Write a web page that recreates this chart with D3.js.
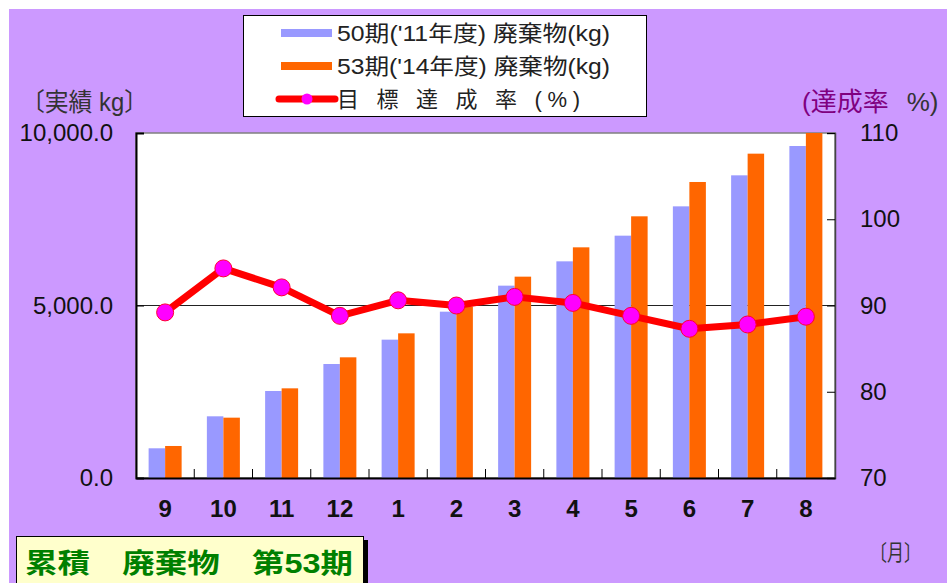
<!DOCTYPE html>
<html>
<head>
<meta charset="utf-8">
<script src="https://d3js.org/d3.v7.min.js"></script>
<style>
  body { margin: 0; background: #fff; }
  svg text { font-family: "Liberation Sans", "Noto Sans CJK JP", sans-serif; }
</style>
</head>
<body>
<div class="vis"></div>
<script>
  // data
  const months = ["9", "10", "11", "12", "1", "2", "3", "4", "5", "6", "7", "8"];
  const waste50 = [861, 1788, 2522, 3304, 4010, 4821, 5575, 6280, 7024, 7874, 8773, 9623];
  const waste53 = [928, 1749, 2599, 3498, 4193, 4970, 5836, 6686, 7585, 8580, 9401, 10050];
  const rate = [89.2, 94.3, 92.1, 88.8, 90.6, 90.0, 91.0, 90.3, 88.8, 87.3, 87.8, 88.7];
  const leftTicks = [0, 5000, 10000];
  const rightTicks = [70, 80, 90, 100, 110];
  const legendLabels = ["50期('11年度) 廃棄物(kg)", "53期('14年度) 廃棄物(kg)", "目 標 達 成 率 (%)"];

  const W = 947, H = 583;
  const plot = {left: 136, right: 835, top: 133, bottom: 478};

  const svg = d3.select(".vis").append("svg")
    .attr("width", W).attr("height", H);

  // purple frame
  svg.append("rect").attr("x", 9).attr("y", 9).attr("width", W - 9).attr("height", H - 9)
    .attr("fill", "#CC99FF");

  const x = d3.scaleBand().domain(months).range([plot.left, plot.right]);
  const xs = d3.scaleBand().domain(["a", "b"]).range([0, 33]);
  const yL = d3.scaleLinear().domain([0, 10000]).range([plot.bottom, plot.top]).clamp(true);
  const yR = d3.scaleLinear().domain([70, 110]).range([plot.bottom, plot.top]);

  // plot area
  svg.append("rect")
    .attr("x", plot.left).attr("y", plot.top)
    .attr("width", plot.right - plot.left).attr("height", plot.bottom - plot.top)
    .attr("fill", "#fff").attr("stroke", "#808080").attr("stroke-width", 1.5);

  // gridline at 5000
  svg.append("line")
    .attr("x1", plot.left).attr("x2", plot.right)
    .attr("y1", yL(5000)).attr("y2", yL(5000))
    .attr("stroke", "#222").attr("stroke-width", 1);

  const off = (x.bandwidth() - 33) / 2;
  svg.selectAll("rect.b50").data(waste50).join("rect").attr("class", "b50")
    .attr("x", (d, i) => x(months[i]) + off + xs("a"))
    .attr("y", d => yL(d))
    .attr("width", xs.bandwidth())
    .attr("height", d => plot.bottom - yL(d))
    .attr("fill", "#9999FF");
  svg.selectAll("rect.b53").data(waste53).join("rect").attr("class", "b53")
    .attr("x", (d, i) => x(months[i]) + off + xs("b"))
    .attr("y", d => yL(d))
    .attr("width", xs.bandwidth())
    .attr("height", d => plot.bottom - yL(d))
    .attr("fill", "#FF6600");

  // left axis
  const gl = svg.append("g").attr("transform", `translate(${plot.left},0)`)
    .call(d3.axisLeft(yL).tickValues(leftTicks).tickSize(-8).tickPadding(23)
      .tickFormat(d => d3.format(",.1f")(d)));
  gl.select(".domain").attr("stroke", "#000").attr("stroke-width", 2);
  gl.selectAll(".tick line").attr("stroke", "#000");
  gl.selectAll(".tick text").attr("font-size", 24).attr("fill", "#111");

  // right axis
  const gr = svg.append("g").attr("transform", `translate(${plot.right},0)`)
    .call(d3.axisRight(yR).tickValues(rightTicks).tickSize(-8).tickPadding(25));
  gr.select(".domain").attr("stroke", "#444").attr("stroke-width", 1.5);
  gr.selectAll(".tick line").attr("stroke", "#000");
  gr.selectAll(".tick text").attr("font-size", 24).attr("fill", "#111");

  // bottom axis
  const gb = svg.append("g").attr("transform", `translate(0,${plot.bottom})`)
    .call(d3.axisBottom(x).tickSize(0).tickPadding(22));
  gb.select(".domain").attr("stroke", "#000").attr("stroke-width", 2);
  gb.selectAll(".tick text").attr("font-size", 24).attr("font-weight", "bold").attr("fill", "#111");
  svg.append("g").selectAll("line").data(months.slice(1)).join("line")
    .attr("x1", d => x(d)).attr("x2", d => x(d))
    .attr("y1", plot.bottom).attr("y2", plot.bottom - 9)
    .attr("stroke", "#000");

  // achievement rate line
  const line = d3.line()
    .x((d, i) => x(months[i]) + x.bandwidth() / 2)
    .y(d => yR(d));
  svg.append("path").datum(rate)
    .attr("d", line)
    .attr("fill", "none").attr("stroke", "#FF0000").attr("stroke-width", 7)
    .attr("stroke-linejoin", "round");
  svg.selectAll("circle.pt").data(rate).join("circle").attr("class", "pt")
    .attr("cx", (d, i) => x(months[i]) + x.bandwidth() / 2)
    .attr("cy", d => yR(d))
    .attr("r", 8.5)
    .attr("fill", "#FF00FF").attr("stroke", "#FF0033").attr("stroke-width", 1);

  // axis titles
  svg.append("text").attr("x", 21).attr("y", 111)
    .attr("font-size", 25).attr("fill", "#333")
    .attr("textLength", 127).attr("lengthAdjust", "spacingAndGlyphs")
    .text("〔実績 kg〕");
  const rt = svg.append("text").attr("x", 802).attr("y", 111).attr("font-size", 26);
  rt.append("tspan").attr("fill", "#800080").text("(達成率");
  rt.append("tspan").attr("fill", "#333").attr("dx", 18).text("%)");
  svg.append("text").attr("x", 870).attr("y", 560)
    .attr("font-size", 22).attr("fill", "#333")
    .attr("textLength", 51).attr("lengthAdjust", "spacingAndGlyphs")
    .text("〔月〕");

  // legend
  const lg = svg.append("g");
  lg.append("rect").attr("x", 243.5).attr("y", 15.5).attr("width", 403).attr("height", 101)
    .attr("fill", "#fff").attr("stroke", "#000").attr("stroke-width", 1);
  const rowY = [33, 66, 99];
  const legendColors = ["#9999FF", "#FF6600"];
  legendColors.forEach((c, i) => {
    lg.append("rect").attr("x", 281).attr("y", rowY[i] - 4).attr("width", 51).attr("height", 8).attr("fill", c);
  });
  lg.append("line").attr("x1", 279).attr("x2", 335).attr("y1", rowY[2]).attr("y2", rowY[2])
    .attr("stroke", "#FF0000").attr("stroke-width", 7).attr("stroke-linecap", "round");
  lg.append("circle").attr("cx", 307).attr("cy", rowY[2]).attr("r", 5.5).attr("fill", "#FF00FF");
  const legendWidths = [273, 273, 243];
  legendLabels.forEach((t, i) => {
    lg.append("text").attr("x", 337).attr("y", rowY[i] + 8)
      .attr("font-size", 22).attr("fill", "#222")
      .attr("textLength", legendWidths[i]).attr("lengthAdjust", i === 2 ? "spacing" : "spacingAndGlyphs")
      .text(t);
  });

  // caption box
  svg.append("rect").attr("x", 20).attr("y", 540).attr("width", 348).attr("height", 50).attr("fill", "#000");
  svg.append("rect").attr("x", 16.5).attr("y", 536.5).attr("width", 347).attr("height", 50)
    .attr("fill", "#FFFFCC").attr("stroke", "#000").attr("stroke-width", 1);
  svg.append("text").attr("x", 25).attr("y", 573)
    .attr("font-size", 27).attr("font-weight", "bold").attr("fill", "#008000")
    .attr("textLength", 328).attr("lengthAdjust", "spacingAndGlyphs")
    .text("累積　廃棄物　第53期");
</script>
</body>
</html>
